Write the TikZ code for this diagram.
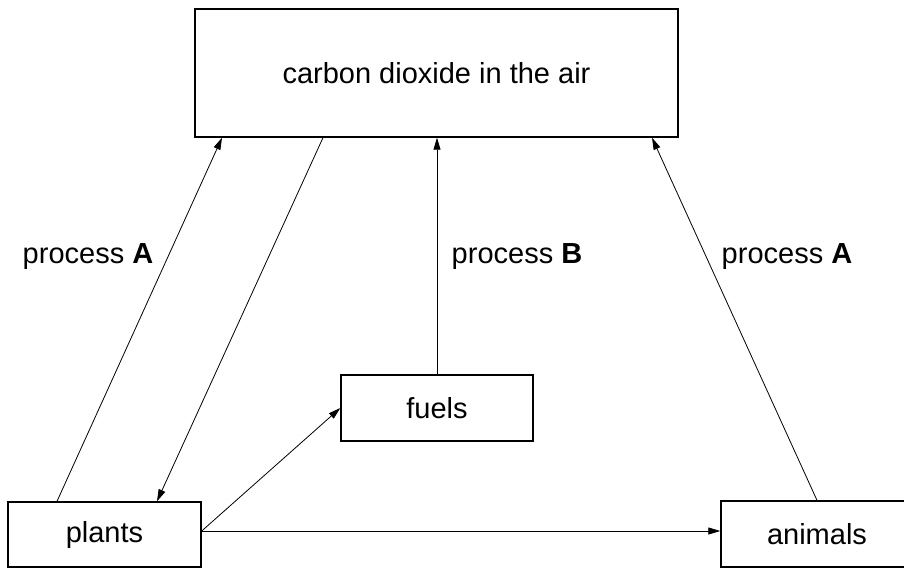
\documentclass[tikz,border=0pt]{standalone}
\usepackage{fontspec}
\setmainfont{Liberation Sans}
\usepackage{tikz}
\usetikzlibrary{arrows.meta}
\tikzset{
  font={\fontsize{29pt}{34pt}\selectfont},
  box/.style={draw=black, line width=1.4pt, rectangle, inner sep=0pt},
  flow/.style={draw=black, line width=0.8pt, -{Triangle[length=12pt,width=7pt]}}}

\begin{document}
\begin{tikzpicture}[x=1pt,y=-1pt]
\useasboundingbox (0,0) rectangle (904,568);
\clip (0,0) rectangle (904,568);
\node [box, minimum width=483pt, minimum height=128pt, text depth=-4pt] (air) at (436.5,73) {carbon dioxide in the air};
\node [box, minimum width=192pt, minimum height=66pt] (fuels) at (437,408) {fuels};
\node [box, minimum width=193pt, minimum height=65pt] (plants) at (104.5,534.5) {plants};
\node [box, minimum width=192pt, minimum height=66pt] (animals) at (817,534) {animals};
\draw [flow] ([xshift=-47.5pt]plants.north) -- ([xshift=-214.5pt]air.south);
\draw [flow] ([xshift=-113.5pt]air.south) -- ([xshift=52.5pt]plants.north);
\draw [flow] (fuels.north) -- (fuels.north |- air.south);
\draw [flow] (animals.north) -- ([xshift=215.5pt]air.south);
\draw [flow] ([yshift=3.5pt]plants.east) -- (fuels.west);
\draw [flow] ([yshift=3.5pt]plants.east) -- ([yshift=3pt]animals.west);
\node (labelA) at (88,257) {process \textbf{A}};
\node (labelB) at (517,257) {process \textbf{B}};
\node (labelC) at (787,257) {process \textbf{A}};
\end{tikzpicture}
\end{document}
